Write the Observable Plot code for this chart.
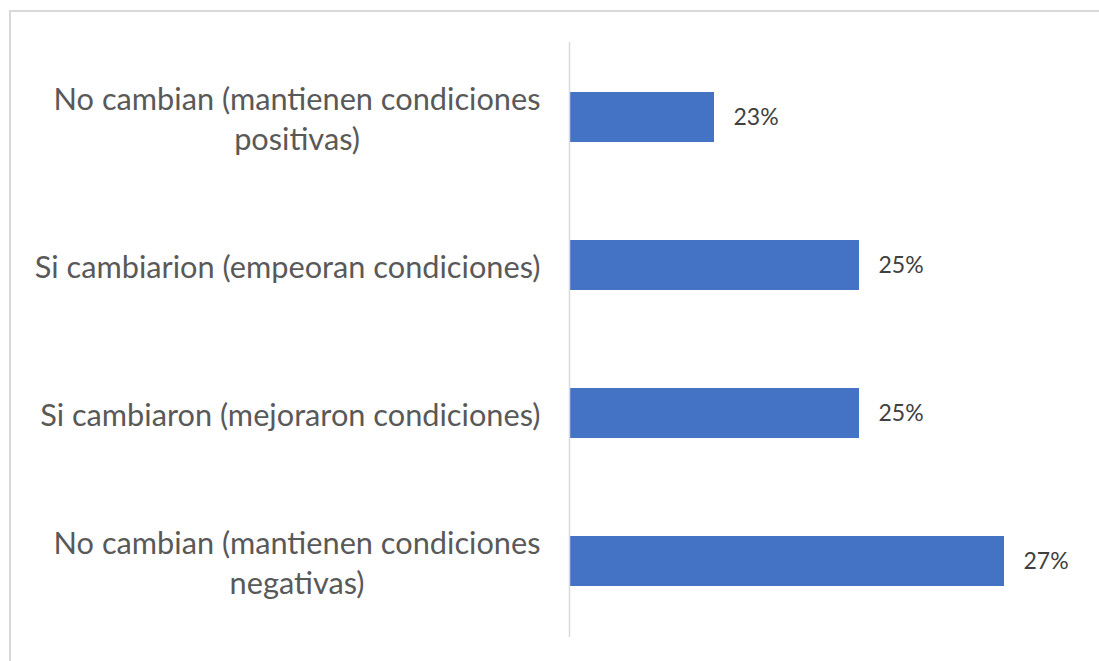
<!DOCTYPE html>
<html>
<head>
<meta charset="utf-8">
<script src="https://cdn.jsdelivr.net/npm/d3@7"></script>
<script src="https://cdn.jsdelivr.net/npm/@observablehq/plot@0.6"></script>
<style>
  html, body { margin: 0; padding: 0; background: #fff; overflow: hidden; }
  #wrap { position: relative; width: 1099px; height: 661px; overflow: hidden; }
  #border { position: absolute; left: 9px; top: 10px; width: 1200px; height: 800px; border: 2px solid #d9d9d9; box-sizing: border-box; }
  #chart { position: absolute; left: 0; top: 0; }
</style>
</head>
<body>
<div id="wrap"><div id="border"></div><div id="chart"></div></div>
<script>
const categories = [
  "No cambian (mantienen condiciones\npositivas)",
  "Si cambiarion (empeoran condiciones)",
  "Si cambiaron (mejoraron condiciones)",
  "No cambian (mantienen condiciones\nnegativas)"
];
const values = [23, 25, 25, 27];
const xDomain = [21, 28];

const data = categories.map((c, i) => ({category: c, value: values[i]}));

const labelFont = "Lato, 'Noto Sans', sans-serif";
const ctx = document.createElement("canvas").getContext("2d");
function measure(text, size) {
  ctx.font = `${size}px ${labelFont}`;
  return Math.max(...text.split("\n").map(l => ctx.measureText(l).width));
}
// fit label font so the widest wrapped line matches the reference width
const baseSize = 28;
const catSize = baseSize * 487 / measure("No cambian (mantienen condiciones", baseSize);
const gap = 29;

const labelMarks = data.map(d => {
  const w = measure(d.category, catSize);
  return Plot.text([d], {
    y: "category",
    frameAnchor: "left",
    text: "category",
    textAnchor: "middle",
    lineAnchor: "middle",
    lineHeight: 40 / catSize,
    dx: -(gap + w / 2),
    fill: "#595959",
    fontSize: catSize,
    fontFamily: labelFont
  });
});

const chart = Plot.plot({
  width: 1099,
  height: 661,
  marginLeft: 569,
  marginRight: 22.5,
  marginTop: 42,
  marginBottom: 24,
  style: {background: "transparent"},
  x: {domain: xDomain, axis: null},
  y: {domain: categories, axis: null, paddingInner: 0.66, paddingOuter: 0.33},
  marks: [
    Plot.barX(data, {x1: xDomain[0], x2: "value", y: "category", fill: "#4472C4"}),
    Plot.ruleX([xDomain[0]], {stroke: "#d9d9d9", strokeWidth: 1.5}),
    Plot.text(data, {
      x: "value", y: "category", text: d => d.value + "%",
      textAnchor: "start", dx: 19, fill: "#404040",
      fontSize: 23, fontFamily: labelFont
    }),
    ...labelMarks
  ]
});
document.getElementById("chart").appendChild(chart);
</script>
</body>
</html>
